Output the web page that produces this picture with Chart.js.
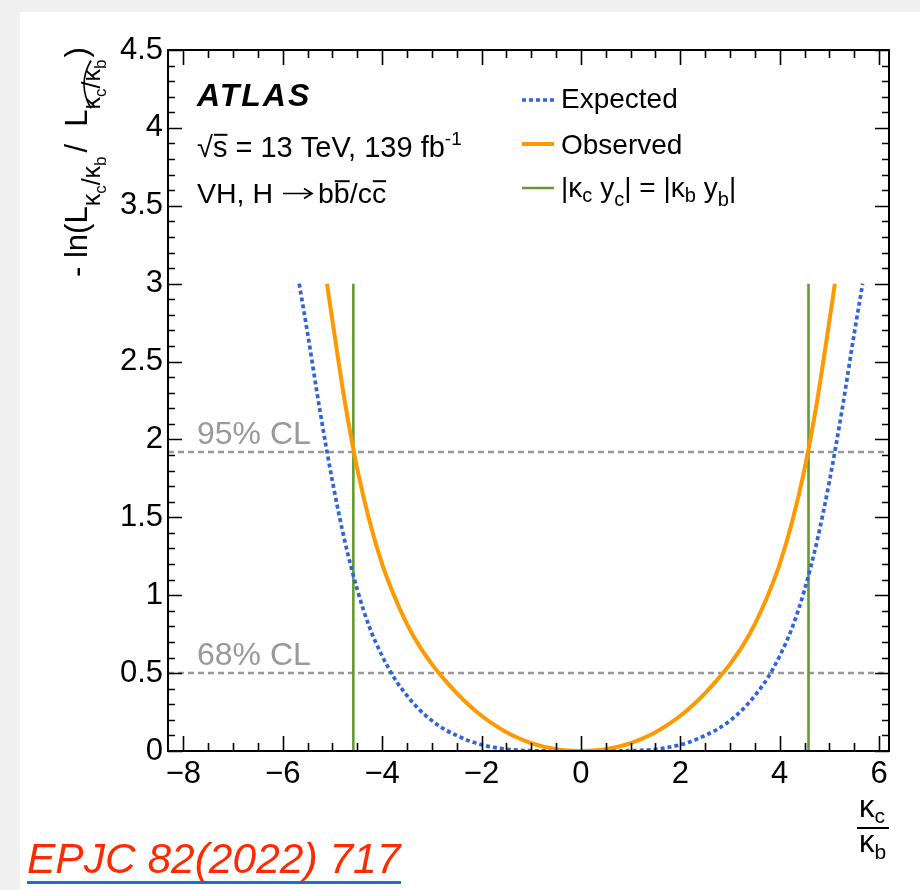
<!DOCTYPE html>
<html>
<head>
<meta charset="utf-8">
<script src="https://cdn.jsdelivr.net/npm/chart.js@4.4.1/dist/chart.umd.min.js"></script>
<style>
  html, body { margin: 0; padding: 0; background: #f0f0f0; }
  #panel { position: absolute; left: 20px; top: 12px; width: 900px; height: 878px; background: #fff; }
  #plot { position: absolute; left: 0; top: 0; }
</style>
</head>
<body>
<div id="panel"></div>
<canvas id="plot" width="920" height="890"></canvas>
<script>
// likelihood scan of kappa_c / kappa_b
const obsX = [-5.11, -5, -4.75, -4.5, -4.25, -4, -3.75, -3.5, -3.25, -3, -2.75, -2.5, -2.25, -2, -1.75, -1.5, -1.25, -1, -0.75, -0.5, -0.25, 0,
              0.25, 0.5, 0.75, 1, 1.25, 1.5, 1.75, 2, 2.25, 2.5, 2.75, 3, 3.25, 3.5, 3.75, 4, 4.25, 4.5, 4.75, 5, 5.11];
const obsY = [3.0, 2.76, 2.24, 1.81, 1.47, 1.2, 0.99, 0.815, 0.673, 0.558, 0.46, 0.372, 0.294, 0.226, 0.169, 0.121, 0.082, 0.051, 0.028, 0.012, 0.003, 0,
              0.003, 0.012, 0.028, 0.051, 0.082, 0.121, 0.169, 0.226, 0.294, 0.372, 0.46, 0.558, 0.673, 0.815, 0.99, 1.2, 1.47, 1.81, 2.24, 2.76, 3.0];

const expX = [-5.67, -5.5, -5.25, -5, -4.75, -4.5, -4.25, -4, -3.75, -3.5, -3.25, -3, -2.75, -2.5, -2.25, -2, -1.75, -1.5, -1.25, -1, -0.75, -0.5, -0.25, 0,
              0.25, 0.5, 0.75, 1, 1.25, 1.5, 1.75, 2, 2.25, 2.5, 2.75, 3, 3.25, 3.5, 3.75, 4, 4.25, 4.5, 4.75, 5, 5.25, 5.5, 5.67];
const expY = [3.0, 2.68, 2.18, 1.73, 1.345, 1.035, 0.79, 0.61, 0.465, 0.355, 0.265, 0.195, 0.14, 0.1, 0.065, 0.04, 0.023, 0.011, 0.005, 0.002, 0.001, 0, 0, 0,
              0, 0, 0.001, 0.002, 0.005, 0.011, 0.023, 0.04, 0.065, 0.1, 0.14, 0.195, 0.265, 0.355, 0.465, 0.61, 0.79, 1.035, 1.345, 1.73, 2.18, 2.68, 3.0];

// |kc yc| = |kb yb|
const sameYukawaX = [-4.58, 4.58];
const sameYukawaTop = 3;

const clLevels = [1.92, 0.5];
const clLabels = ["95% CL", "68% CL"];

const xTicks = [-8, -6, -4, -2, 0, 2, 4, 6];
const xTickLabels = ["\u22128", "\u22126", "\u22124", "\u22122", "0", "2", "4", "6"];
const yTicks = [0, 0.5, 1, 1.5, 2, 2.5, 3, 3.5, 4, 4.5];
const yTickLabels = ["0", "0.5", "1", "1.5", "2", "2.5", "3", "3.5", "4", "4.5"];

const X_MIN = -8.31, X_MAX = 6.2;
const FONT = '"Liberation Sans", Arial, Helvetica, sans-serif';
const BLUE = '#3163da', ORANGE = '#ff9900', GREEN = '#669933', GREY = '#999999';

const pts = (xs, ys) => xs.map((x, i) => ({ x: x, y: ys[i] }));

// draws a sequence of text runs along the baseline, returns end x
function runs(ctx, x, y, list) {
  for (const r of list) {
    const yy = y + (r.dy || 0);
    if (r.arrow) {
      // long right arrow, thin strokes
      const ay = Math.round(yy - r.size * 0.34) + 0.5;
      ctx.save();
      ctx.strokeStyle = ctx.fillStyle;
      ctx.lineWidth = 1.7;
      ctx.beginPath();
      ctx.moveTo(x, ay); ctx.lineTo(x + r.arrow, ay);
      ctx.moveTo(x + r.arrow - 8, ay - 5); ctx.lineTo(x + r.arrow, ay); ctx.lineTo(x + r.arrow - 8, ay + 5);
      ctx.stroke();
      ctx.restore();
      x += r.arrow + (r.gap || 0);
      continue;
    }
    ctx.font = (r.style || '') + ' ' + r.size + 'px ' + FONT;
    const w = ctx.measureText(r.t).width;
    ctx.fillText(r.t, x, yy);
    if (r.bar) ctx.fillRect(x + 1, yy - r.size * 0.80, w - 1, 2);
    x += w + (r.gap || 0);
  }
  return x;
}

const decor = {
  id: 'decor',
  afterDraw(chart) {
    const ctx = chart.ctx, a = chart.chartArea;
    const xs = chart.scales.x, ys = chart.scales.y;
    ctx.save();

    // frame with inward ticks on all four sides
    ctx.strokeStyle = '#000';
    ctx.lineWidth = 2;
    ctx.strokeRect(a.left, a.top, a.right - a.left, a.bottom - a.top);
    ctx.lineWidth = 1.6;
    ctx.beginPath();
    for (let i = -16; i <= 12; i++) {
      const px = Math.round(xs.getPixelForValue(i / 2)) + 0.5;
      const len = i % 4 === 0 ? 15 : 8;
      ctx.moveTo(px, a.bottom); ctx.lineTo(px, a.bottom - len);
      ctx.moveTo(px, a.top); ctx.lineTo(px, a.top + len);
    }
    for (let i = 0; i <= 45; i++) {
      const py = Math.round(ys.getPixelForValue(i / 10)) + 0.5;
      const len = i % 5 === 0 ? 14 : 7;
      ctx.moveTo(a.left, py); ctx.lineTo(a.left + len, py);
      ctx.moveTo(a.right, py); ctx.lineTo(a.right - len, py);
    }
    ctx.stroke();

    ctx.textAlign = 'left';
    ctx.textBaseline = 'alphabetic';

    // CL labels
    ctx.fillStyle = GREY;
    ctx.font = '32px ' + FONT;
    clLevels.forEach((lvl, i) => ctx.fillText(clLabels[i], 197, ys.getPixelForValue(lvl) - 8));

    // experiment label block
    ctx.fillStyle = '#000';
    ctx.font = 'italic bold 32px ' + FONT;
    ctx.letterSpacing = '2px';
    ctx.fillText('ATLAS', 197, 106);
    ctx.letterSpacing = '0px';
    runs(ctx, 197, 157, [
      { t: '\u221A', size: 29 }, { t: 's', size: 29, bar: true },
      { t: ' = 13 TeV, 139 fb', size: 29 }, { t: '-1', size: 19, dy: -12 }
    ]);
    runs(ctx, 197, 203, [
      { t: 'VH, H', size: 28.5, gap: 10 }, { arrow: 29, size: 28.5, gap: 6 }, { t: 'b', size: 28.5 },
      { t: 'b', size: 28.5, bar: true }, { t: '/c', size: 28.5 }, { t: 'c', size: 28.5, bar: true }
    ]);

    // legend
    ctx.lineCap = 'butt';
    ctx.lineWidth = 3.7; ctx.strokeStyle = BLUE; ctx.setLineDash([4, 3]);
    ctx.beginPath(); ctx.moveTo(522, 100); ctx.lineTo(554, 100); ctx.stroke();
    ctx.setLineDash([]);
    ctx.lineWidth = 4; ctx.strokeStyle = ORANGE;
    ctx.beginPath(); ctx.moveTo(522, 144); ctx.lineTo(554, 144); ctx.stroke();
    ctx.lineWidth = 2.5; ctx.strokeStyle = GREEN;
    ctx.beginPath(); ctx.moveTo(522, 188); ctx.lineTo(554, 188); ctx.stroke();
    ctx.font = '28px ' + FONT;
    ctx.fillText('Expected', 561, 108);
    ctx.fillText('Observed', 561, 154);
    runs(ctx, 561, 197, [
      { t: '|\u03BA', size: 28 }, { t: 'c', size: 20, dy: 5, gap: 8 },
      { t: 'y', size: 28 }, { t: 'c', size: 20, dy: 9 },
      { t: '| = |\u03BA', size: 28 }, { t: 'b', size: 20, dy: 5, gap: 8 },
      { t: 'y', size: 28 }, { t: 'b', size: 20, dy: 9 }, { t: '|', size: 28 }
    ]);

    // x title: kc over kb
    runs(ctx, 859, 817, [{ t: '\u03BA', size: 31 }, { t: 'c', size: 21, dy: 6 }]);
    ctx.fillRect(857, 827, 32, 2);
    runs(ctx, 859, 852, [{ t: '\u03BA', size: 31 }, { t: 'b', size: 21, dy: 7 }]);

    // y title, rotated
    ctx.save();
    ctx.translate(87, 277);
    ctx.rotate(-Math.PI / 2);
    const sub = () => [
      { t: '\u03BA', size: 25, dy: 13 }, { t: 'c', size: 17, dy: 19 },
      { t: '/', size: 25, dy: 13 }, { t: '\u03BA', size: 25, dy: 13 }, { t: 'b', size: 17, dy: 19 }
    ];
    let u = runs(ctx, 0, 0, [{ t: '- ln(L', size: 31 }].concat(sub()));
    u = runs(ctx, u + 4, 0, [{ t: '/  L', size: 31 }]);
    const u1 = runs(ctx, u, 0, sub());
    runs(ctx, u1 + 2, 0, [{ t: ')', size: 31 }]);
    ctx.lineWidth = 1.6; ctx.strokeStyle = '#000';
    ctx.beginPath();
    ctx.moveTo(u + 1, 4);
    ctx.quadraticCurveTo((u + u1) / 2, -10, u1 - 1, 4);
    ctx.stroke();
    ctx.restore();

    ctx.restore();
  }
};

const datasets = [
  {
    label: 'Observed', data: pts(obsX, obsY), borderColor: ORANGE, borderWidth: 4,
    cubicInterpolationMode: 'monotone', order: 0
  },
  {
    label: 'Expected', data: pts(expX, expY), borderColor: BLUE, borderWidth: 3.7,
    borderDash: [4, 3], cubicInterpolationMode: 'monotone', order: 1
  }
];
sameYukawaX.forEach(x => datasets.push({
  label: '|kc yc| = |kb yb|', data: [{ x: x, y: 0 }, { x: x, y: sameYukawaTop }],
  borderColor: GREEN, borderWidth: 2.6, order: 2
}));
clLevels.forEach((lvl, i) => datasets.push({
  label: clLabels[i], data: [{ x: X_MIN, y: lvl }, { x: X_MAX, y: lvl }],
  borderColor: GREY, borderWidth: 2.5, borderDash: [6, 4], order: 3
}));

new Chart(document.getElementById('plot'), {
  type: 'line',
  data: { datasets: datasets },
  options: {
    responsive: false,
    animation: false,
    layout: { padding: { left: 0, top: 50, right: 31, bottom: 0 } },
    elements: { point: { radius: 0 }, line: { fill: false } },
    plugins: { legend: { display: false }, tooltip: { enabled: false } },
    scales: {
      x: {
        type: 'linear', min: X_MIN, max: X_MAX,
        grid: { display: false, drawTicks: false }, border: { display: false },
        afterBuildTicks: s => { s.ticks = xTicks.map(v => ({ value: v })); },
        afterFit: s => { s.height = 139; },
        ticks: {
          autoSkip: false, maxRotation: 0, padding: 5, color: '#000',
          font: { family: FONT, size: 31 },
          callback: v => xTickLabels[xTicks.indexOf(v)]
        }
      },
      y: {
        type: 'linear', min: 0, max: 4.5,
        grid: { display: false, drawTicks: false }, border: { display: false },
        afterBuildTicks: s => { s.ticks = yTicks.map(v => ({ value: v })); },
        afterFit: s => { s.width = 168; },
        ticks: {
          autoSkip: false, padding: 5, color: '#000',
          font: { family: FONT, size: 31 },
          callback: v => yTickLabels[yTicks.indexOf(v)]
        }
      }
    }
  },
  plugins: [decor]
});

// publication reference
const c = document.getElementById('plot').getContext('2d');
c.save();
c.fillStyle = '#ff2a00';
c.font = 'italic 42.5px ' + FONT;
c.textBaseline = 'alphabetic';
c.fillText('EPJC 82(2022) 717', 27, 873);
c.fillStyle = '#1f6fd0';
c.fillRect(27, 881, 374, 3);
c.restore();
</script>
</body>
</html>
